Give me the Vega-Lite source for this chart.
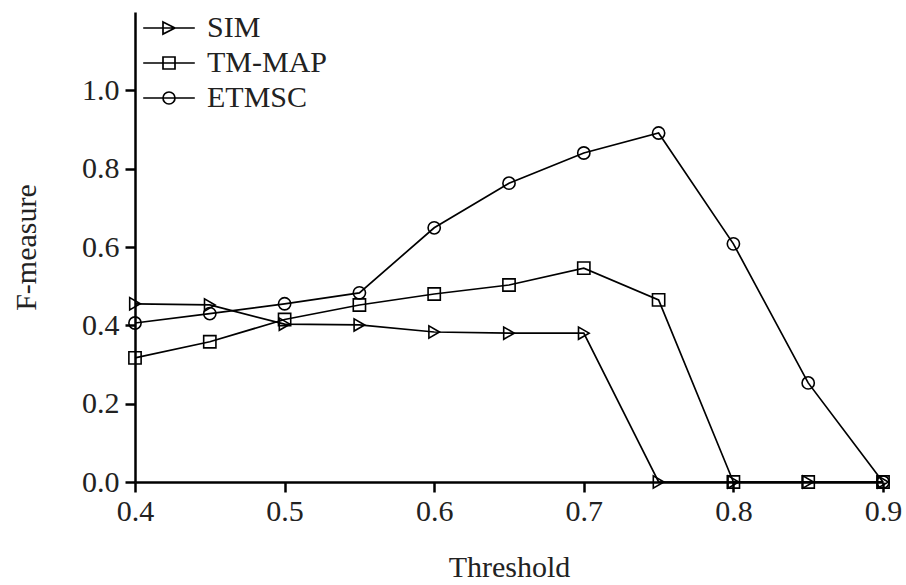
{
  "$schema": "https://vega.github.io/schema/vega-lite/v6.json",
  "width": 748,
  "height": 470,
  "autosize": "none",
  "padding": {"left": 135, "top": 12, "right": 23, "bottom": 103},
  "background": "white",
  "config": {
    "view": {"stroke": null},
    "font": "Liberation Serif, Times New Roman, Times, serif",
    "axis": {
      "grid": false,
      "domainColor": "black",
      "domainWidth": 2.5,
      "tickColor": "black",
      "tickWidth": 2.5,
      "tickSize": 10,
      "labelFont": "Liberation Serif, Times New Roman, Times, serif",
      "labelFontSize": 30,
      "labelColor": "#222",
      "titleFont": "Liberation Serif, Times New Roman, Times, serif",
      "titleFontSize": 30,
      "titleFontWeight": "normal",
      "titleColor": "#222"
    },
    "legend": {
      "labelFont": "Liberation Serif, Times New Roman, Times, serif"
    }
  },
  "data": {
    "values": [
      {"t": 0.4, "s": "SIM", "f": 0.455},
      {"t": 0.45, "s": "SIM", "f": 0.452},
      {"t": 0.5, "s": "SIM", "f": 0.403},
      {"t": 0.55, "s": "SIM", "f": 0.401},
      {"t": 0.6, "s": "SIM", "f": 0.383},
      {"t": 0.65, "s": "SIM", "f": 0.38},
      {"t": 0.7, "s": "SIM", "f": 0.38},
      {"t": 0.75, "s": "SIM", "f": 0.0},
      {"t": 0.8, "s": "SIM", "f": 0.0},
      {"t": 0.85, "s": "SIM", "f": 0.0},
      {"t": 0.9, "s": "SIM", "f": 0.0},
      {"t": 0.4, "s": "TM-MAP", "f": 0.317},
      {"t": 0.45, "s": "TM-MAP", "f": 0.358},
      {"t": 0.5, "s": "TM-MAP", "f": 0.415},
      {"t": 0.55, "s": "TM-MAP", "f": 0.452},
      {"t": 0.6, "s": "TM-MAP", "f": 0.48},
      {"t": 0.65, "s": "TM-MAP", "f": 0.503},
      {"t": 0.7, "s": "TM-MAP", "f": 0.546},
      {"t": 0.75, "s": "TM-MAP", "f": 0.465},
      {"t": 0.8, "s": "TM-MAP", "f": 0.0},
      {"t": 0.85, "s": "TM-MAP", "f": 0.0},
      {"t": 0.9, "s": "TM-MAP", "f": 0.0},
      {"t": 0.4, "s": "ETMSC", "f": 0.406},
      {"t": 0.45, "s": "ETMSC", "f": 0.43},
      {"t": 0.5, "s": "ETMSC", "f": 0.455},
      {"t": 0.55, "s": "ETMSC", "f": 0.483},
      {"t": 0.6, "s": "ETMSC", "f": 0.649},
      {"t": 0.65, "s": "ETMSC", "f": 0.763},
      {"t": 0.7, "s": "ETMSC", "f": 0.84},
      {"t": 0.75, "s": "ETMSC", "f": 0.891},
      {"t": 0.8, "s": "ETMSC", "f": 0.608},
      {"t": 0.85, "s": "ETMSC", "f": 0.253},
      {"t": 0.9, "s": "ETMSC", "f": 0.0}
    ]
  },
  "encoding": {
    "x": {
      "field": "t", "type": "quantitative", "title": "Threshold",
      "scale": {"domain": [0.4, 0.9], "nice": false, "zero": false},
      "axis": {"values": [0.4, 0.5, 0.6, 0.7, 0.8, 0.9], "format": ".1f", "labelPadding": 4, "titlePadding": 26, "labelFlush": false}
    },
    "y": {
      "field": "f", "type": "quantitative", "title": "F-measure",
      "scale": {"domain": [0, 1.2], "nice": false},
      "axis": {"values": [0, 0.2, 0.4, 0.6, 0.8, 1.0], "format": ".1f", "labelPadding": 6, "titlePadding": 40, "labelFlush": false}
    }
  },
  "resolve": {"scale": {"shape": "independent"}},
  "layer": [
    {
      "mark": {"type": "line", "color": "black", "strokeWidth": 1.7, "clip": false},
      "encoding": {"detail": {"field": "s"}}
    },
    {
      "mark": {"type": "point", "filled": false, "color": "black", "strokeWidth": 1.6, "size": 150, "opacity": 1, "clip": false},
      "encoding": {
        "shape": {
          "field": "s", "type": "nominal",
          "scale": {"domain": ["SIM", "TM-MAP", "ETMSC"], "range": ["triangle-right", "square", "circle"]},
          "legend": null
        }
      }
    },
    {
      "mark": {"type": "point", "filled": false, "color": "black", "strokeWidth": 1.7, "size": 144, "opacity": 0, "clip": false},
      "encoding": {
        "shape": {
          "field": "s", "type": "nominal",
          "scale": {"domain": ["SIM", "TM-MAP", "ETMSC"], "range": ["M-4.3,0L4.3,0M-1,-1L1,0L-1,1Z", "M-4.3,0L4.3,0M-1,-1L1,-1L1,1L-1,1Z", "M-4.3,0L4.3,0M1,0A1,1,0,1,1,-1,0A1,1,0,1,1,1,0"]},
          "legend": {
            "title": null,
            "orient": "none",
            "legendX": 19,
            "legendY": 1,
            "symbolSize": 144,
            "symbolOpacity": 1,
            "symbolStrokeWidth": 1.7,
            "symbolStrokeColor": "black",
            "symbolFillColor": "transparent",
            "labelFontSize": 30,
            "labelColor": "#222",
            "labelOffset": 23,
            "rowPadding": 5
          }
        }
      }
    }
  ]
}
